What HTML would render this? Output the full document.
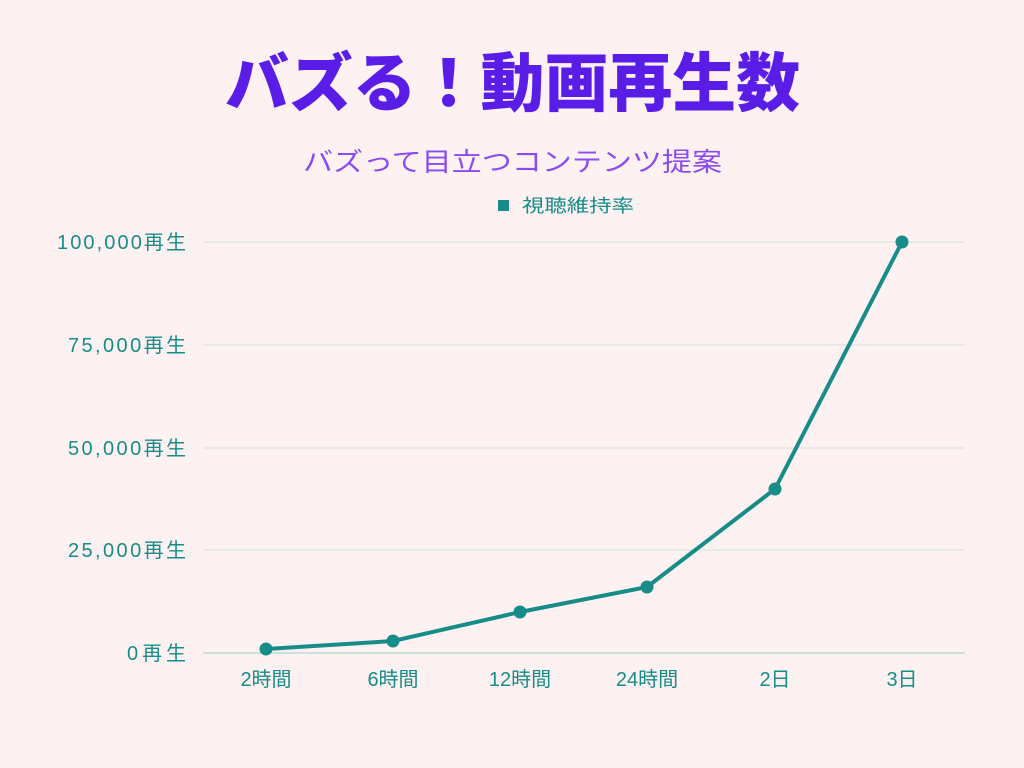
<!DOCTYPE html>
<html><head><meta charset="utf-8"><style>
html,body{margin:0;padding:0;background:#fdf2f1;}
svg{display:block}
</style></head><body>
<svg width="1024" height="768" xmlns="http://www.w3.org/2000/svg" font-family="Liberation Sans, Noto Sans CJK JP, sans-serif">
<rect width="1024" height="768" fill="#fdf2f1"/>
<text x="225" y="106" font-size="64" font-weight="900" fill="#5a1de8" font-family="Noto Sans CJK JP, sans-serif" textLength="575" lengthAdjust="spacingAndGlyphs">バズる！動画再生数</text>
<text x="303" y="171" font-size="26" fill="#8a4cf0" font-family="Noto Sans CJK JP, sans-serif" textLength="419" lengthAdjust="spacingAndGlyphs">バズって目立つコンテンツ提案</text>
<rect x="498" y="200" width="11" height="11" fill="#178c89"/>
<text x="522" y="212" font-size="18" fill="#178c89" font-family="Noto Sans CJK JP, sans-serif" textLength="112" lengthAdjust="spacingAndGlyphs">視聴維持率</text>
<g stroke="#cfe3e0" stroke-width="1">
<line x1="203" x2="965" y1="242" y2="242"/>
<line x1="203" x2="965" y1="345" y2="345"/>
<line x1="203" x2="965" y1="448" y2="448"/>
<line x1="203" x2="965" y1="550" y2="550"/>
</g>
<line x1="203" x2="965" y1="653" y2="653" stroke="#9fcfcb" stroke-width="1"/>
<g font-size="20" fill="#178c89" font-family="Liberation Sans, Noto Sans CJK JP, sans-serif" lengthAdjust="spacingAndGlyphs">
<text x="57" y="249" textLength="129">100,000再生</text>
<text x="68" y="352" textLength="118">75,000再生</text>
<text x="68" y="455" textLength="118">50,000再生</text>
<text x="68" y="557" textLength="118">25,000再生</text>
<text x="127" y="660" textLength="59">0再生</text>
</g>
<g font-size="20" fill="#178c89" text-anchor="middle" font-family="Liberation Sans, Noto Sans CJK JP, sans-serif">
<text x="266" y="686">2時間</text>
<text x="393" y="686">6時間</text>
<text x="520" y="686">12時間</text>
<text x="647" y="686">24時間</text>
<text x="775" y="686">2日</text>
<text x="902" y="686">3日</text>
</g>
<polyline points="266,649 393,641 520,612 647,587 775,489 902,242" fill="none" stroke="#178c89" stroke-width="4" stroke-linejoin="round"/>
<g fill="#178c89">
<circle cx="266" cy="649" r="6.5"/><circle cx="393" cy="641" r="6.5"/><circle cx="520" cy="612" r="6.5"/>
<circle cx="647" cy="587" r="6.5"/><circle cx="775" cy="489" r="6.5"/><circle cx="902" cy="242" r="6.5"/>
</g>
</svg>
</body></html>
